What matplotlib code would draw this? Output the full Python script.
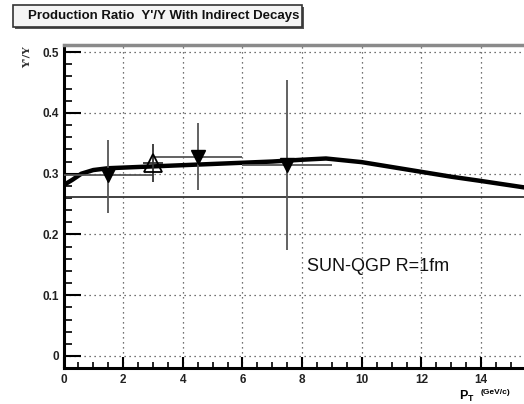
import matplotlib
matplotlib.use("Agg")
import matplotlib.pyplot as plt
from matplotlib.ticker import MultipleLocator
from matplotlib.patches import Rectangle

# ---- data ----
curve_pt = [0.0, 0.3, 0.6, 1.0, 1.5, 2.0, 3.0, 4.0, 5.0, 6.0, 7.0, 8.0, 8.8, 10.0, 11.0, 12.0, 13.0, 14.0, 15.5, 16.0]
curve_ratio = [0.281, 0.290, 0.300, 0.306, 0.309, 0.310, 0.312, 0.314, 0.316, 0.318, 0.320, 0.323, 0.325, 0.319, 0.311, 0.303, 0.295, 0.288, 0.277, 0.274]

filled_pt = [1.5, 4.5, 7.5]
filled_ratio = [0.298, 0.328, 0.315]
filled_yerr_lo = [0.063, 0.055, 0.141]
filled_yerr_hi = [0.057, 0.055, 0.139]
filled_xerr = [1.5, 1.5, 1.5]

open_pt = [3.0]
open_ratio = [0.317]
open_yerr_lo = [0.031]
open_yerr_hi = [0.032]
open_xerr = [0.35]

baseline = 0.262

xticks = [0, 2, 4, 6, 8, 10, 12, 14]
yticks = [0, 0.1, 0.2, 0.3, 0.4, 0.5]
ytick_labels = ["0", "0.1", "0.2", "0.3", "0.4", "0.5"]

title = "Production Ratio  \u03a5'/\u03a5 With Indirect Decays"
label_text = "SUN-QGP R=1fm"

# ---- figure ----
fig = plt.figure(figsize=(5.24, 4.04), dpi=100)
W, H = 524, 404
x0_px, x1_px = 63.5, 63.5 + 16 * 29.83
ytop_px, ybot_px = 45, 367.5
ax = fig.add_axes([x0_px / W, (H - ybot_px) / H, (x1_px - x0_px) / W, (ybot_px - ytop_px) / H])
ax.set_xlim(0, 16)
ax.set_ylim(-0.019, 0.5118)

font = "Liberation Sans"

# grid
for xv in xticks[1:]:
    ax.axvline(xv, color="#444444", lw=0.9, ls=(0, (1, 3)), zorder=1)
for yv in yticks:
    ax.axhline(yv, color="#444444", lw=0.9, ls=(0, (1, 3)), zorder=1)

ax.axhline(baseline, color="#333333", lw=1.3, zorder=2)
ax.plot(curve_pt, curve_ratio, color="black", lw=3.2, zorder=4, solid_capstyle="round")

ax.errorbar(filled_pt, filled_ratio, yerr=[filled_yerr_lo, filled_yerr_hi], xerr=filled_xerr,
            fmt="v", color="black", ms=10, ecolor="#555555", elinewidth=1.3, capsize=0, zorder=5)
ax.errorbar(open_pt, open_ratio, yerr=[open_yerr_lo, open_yerr_hi], xerr=open_xerr,
            fmt="^", mfc="none", mec="black", mew=1.3, ms=12.5, ecolor="#333333", elinewidth=1.3,
            capsize=0, zorder=5)

# ticks
ax.set_xticks(xticks)
ax.set_yticks(yticks)
ax.set_yticklabels(ytick_labels)
ax.xaxis.set_minor_locator(MultipleLocator(0.5))
ax.yaxis.set_minor_locator(MultipleLocator(0.02))
ax.tick_params(axis="both", which="both", direction="in", color="black")
ax.tick_params(axis="y", which="major", length=12, width=1.5, pad=3)
ax.tick_params(axis="y", which="minor", length=6, width=1.2)
ax.tick_params(axis="x", which="major", length=8, width=1.5, pad=5)
ax.tick_params(axis="x", which="minor", length=4, width=1.2)
ax.tick_params(top=False, right=False)
for lab in ax.get_xticklabels() + ax.get_yticklabels():
    lab.set_fontfamily(font)
    lab.set_fontsize(8.5)
    lab.set_fontweight("bold")
    lab.set_color("#222222")

ax.spines["left"].set_linewidth(2.2)
ax.spines["bottom"].set_linewidth(2.2)
ax.spines["top"].set_linewidth(2.5)
ax.spines["top"].set_color("#8a8a8a")
ax.spines["right"].set_visible(False)

ax.text(8.15, 0.148, label_text, fontsize=13, family=font, color="#111111", va="center", ha="left")

# title box (with shadow like the original)
fig.patches.append(Rectangle((15 / W, (H - 29) / H), (302 - 13) / W, 22 / H, transform=fig.transFigure,
                             facecolor="#555555", edgecolor="none"))
fig.patches.append(Rectangle((13 / W, (H - 27) / H), (302 - 13) / W, 22 / H, transform=fig.transFigure,
                             facecolor="#f4f4f4", edgecolor="#333333", lw=1.2))
fig.text(28 / W, (H - 16) / H, title, fontsize=9.5, family=font, fontweight="bold",
         va="center", ha="left", color="#111111")

# axis labels
fig.text(27 / W, (H - 57) / H, "\u03a5'/\u03a5", rotation=90, fontsize=7.5, family="DejaVu Serif",
         fontweight="bold", va="center", ha="center", color="#333333")
fig.text(459 / W, (H - 396) / H, "P$_{\\mathregular{T}}$", fontsize=9, family=font, fontweight="bold",
         va="center", ha="left")
fig.text(481 / W, (H - 393) / H, "(GeV/c)", fontsize=6, family=font, fontweight="bold",
         va="center", ha="left")

fig.savefig("out.png", dpi=100)
